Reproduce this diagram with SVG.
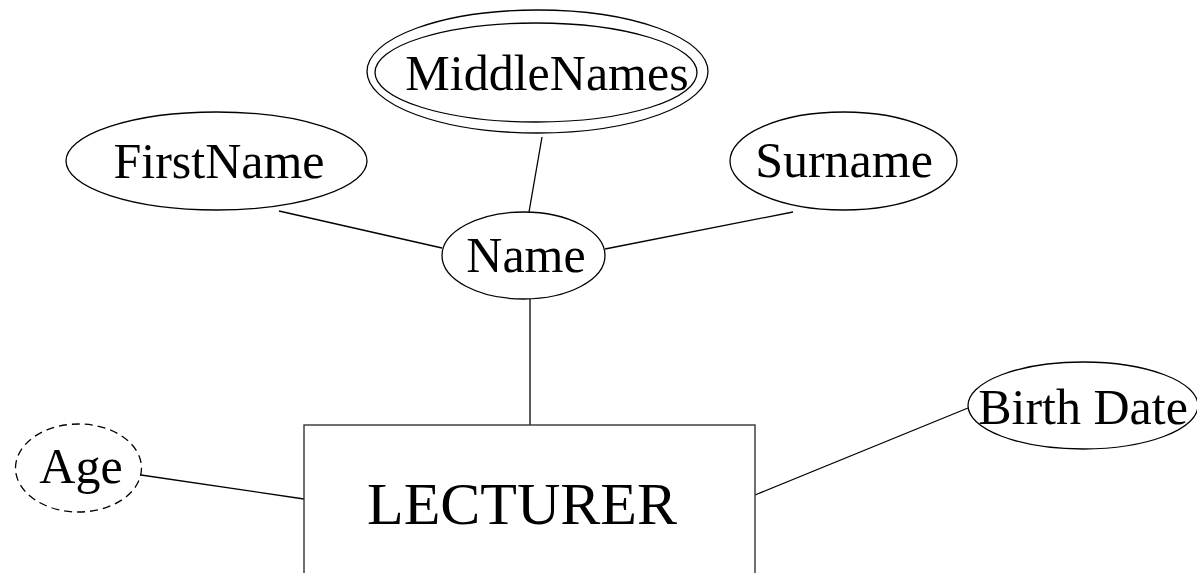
<svg xmlns="http://www.w3.org/2000/svg" width="1197" height="573" viewBox="0 0 1197 573">
  <style>
    .shape { fill: #ffffff; stroke: #000000; stroke-width: 1.3; }
    .entity { fill: #ffffff; stroke: #333333; stroke-width: 1.4; }
    .derived { stroke-dasharray: 8 5; }
    .label { font-family: "Liberation Serif", "Times New Roman", serif; font-size: 50px; fill: #000000; text-anchor: middle; }
    .big { font-size: 60px; }
    .edge { stroke: #000000; stroke-width: 1.3; fill: none; }
  </style>
  <rect width="1197" height="573" fill="#ffffff"/>

  <!-- connectors -->
  <g id="connectors">
    <line class="edge" x1="542" y1="137" x2="529" y2="212"/>
    <line class="edge" x1="279" y1="211" x2="442" y2="248"/>
    <line class="edge" x1="793" y1="212" x2="605" y2="249"/>
    <line class="edge" x1="530" y1="299" x2="530" y2="425"/>
    <line class="edge" x1="141" y1="475" x2="304" y2="499"/>
    <line class="edge" x1="968" y1="408" x2="755" y2="495"/>
  </g>

  <!-- entity -->
  <g id="lecturer">
    <rect class="entity" x="304" y="425" width="451" height="170"/>
    <text class="label big" x="522" y="524">LECTURER</text>
  </g>

  <!-- composite attribute and its parts -->
  <g id="name">
    <ellipse class="shape" cx="523.5" cy="255.5" rx="81.5" ry="43.5"/>
    <text class="label" x="526" y="272">Name</text>
  </g>
  <g id="firstname">
    <ellipse class="shape" cx="216.5" cy="161" rx="150.5" ry="49"/>
    <text class="label" x="219" y="178">FirstName</text>
  </g>
  <g id="surname">
    <ellipse class="shape" cx="843.5" cy="161" rx="113.5" ry="49"/>
    <text class="label" x="844" y="177">Surname</text>
  </g>
  <!-- multivalued attribute: double outline -->
  <g id="middlenames">
    <ellipse class="shape" cx="537.5" cy="71.5" rx="170.5" ry="61.5"/>
    <ellipse class="shape" cx="536" cy="72.5" rx="161" ry="49.5"/>
    <text class="label" x="547" y="90">MiddleNames</text>
  </g>

  <!-- simple attributes -->
  <g id="birthdate">
    <ellipse class="shape" cx="1083" cy="405.5" rx="115" ry="43.5"/>
    <text class="label" x="1083" y="424">Birth Date</text>
  </g>
  <!-- derived attribute: dashed outline -->
  <g id="age">
    <ellipse class="shape derived" cx="78.5" cy="468" rx="63" ry="44"/>
    <text class="label" x="81" y="483">Age</text>
  </g>
</svg>
